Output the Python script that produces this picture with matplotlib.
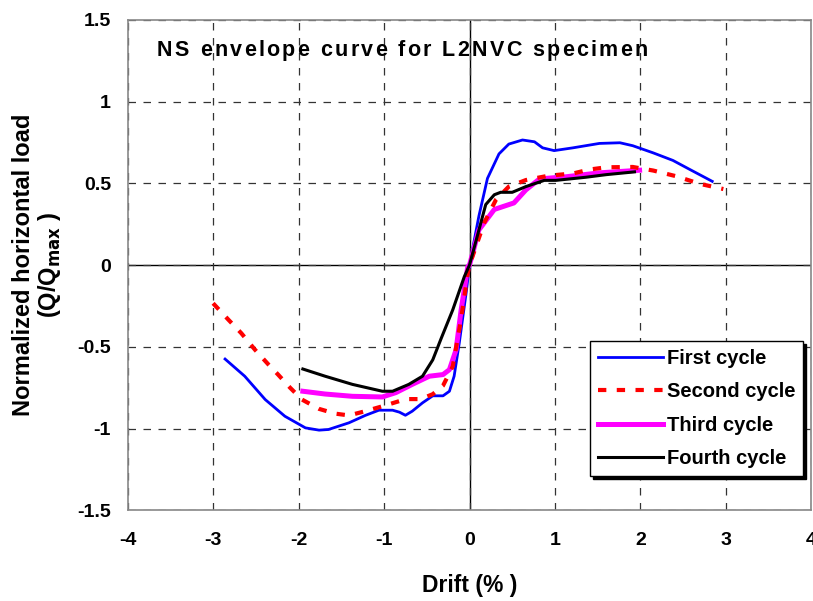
import numpy as np
import matplotlib
matplotlib.use("Agg")
import matplotlib.pyplot as plt
from matplotlib.transforms import offset_copy

plt.rcParams['font.family'] = ['Liberation Sans', 'DejaVu Sans']
plt.rcParams['font.weight'] = 'bold'

# First cycle
x1 = [-2.86, -2.63, -2.39, -2.16, -1.92, -1.76, -1.65, -1.41, -1.22, -1.06, -0.90, -0.82,
      -0.75, -0.67, -0.55, -0.43, -0.31, -0.235, -0.18, -0.12, -0.04, 0.0,
      0.11, 0.21, 0.345, 0.46, 0.62, 0.76, 0.855, 0.99, 1.21, 1.52, 1.76, 1.91,
      2.15, 2.38, 2.58, 2.84]
y1 = [-0.575, -0.68, -0.823, -0.925, -0.996, -1.01, -1.006, -0.965, -0.92, -0.888, -0.888, -0.90,
      -0.919, -0.894, -0.843, -0.80, -0.80, -0.772, -0.68, -0.478, -0.173, 0.0,
      0.30, 0.53, 0.68, 0.74, 0.765, 0.754, 0.717, 0.70, 0.717, 0.744, 0.748, 0.73,
      0.686, 0.64, 0.584, 0.512]

# Second cycle
x2 = [-3.0, -2.82, -2.67, -2.51, -2.35, -2.24, -2.10, -1.96, -1.76, -1.57, -1.41, -1.22,
      -0.98, -0.745, -0.57, -0.43, -0.31, -0.196, -0.10, -0.02, 0.0,
      0.17, 0.31, 0.46, 0.66, 0.93, 1.21, 1.40, 1.60, 1.91, 2.15, 2.42, 2.70, 2.97]
y2 = [-0.234, -0.335, -0.417, -0.518, -0.61, -0.67, -0.75, -0.823, -0.88, -0.909, -0.92, -0.894,
      -0.858, -0.82, -0.82, -0.79, -0.738, -0.62, -0.335, -0.05, 0.0,
      0.256, 0.40, 0.48, 0.52, 0.547, 0.56, 0.584, 0.598, 0.60, 0.578, 0.543, 0.496, 0.465]

# Third cycle
x3 = [-1.95, -1.69, -1.37, -1.02, -0.86, -0.67, -0.47, -0.31, -0.235, -0.157, -0.098, -0.02,
      0.0, 0.11, 0.29, 0.52, 0.66, 0.82, 1.13, 1.52, 1.99]
y3 = [-0.772, -0.789, -0.803, -0.807, -0.78, -0.73, -0.68, -0.67, -0.64, -0.518, -0.274, -0.01,
      0.0, 0.215, 0.34, 0.38, 0.46, 0.527, 0.54, 0.564, 0.58]

# Fourth cycle
x4 = [-1.95, -1.69, -1.37, -1.02, -0.90, -0.71, -0.55, -0.43, -0.33, -0.196, -0.06, 0.0,
      0.19, 0.29, 0.365, 0.50, 0.66, 0.875, 1.01, 1.36, 1.60, 1.93]
y4 = [-0.636, -0.68, -0.73, -0.772, -0.772, -0.73, -0.68, -0.58, -0.447, -0.274, -0.07, 0.0,
      0.37, 0.43, 0.445, 0.445, 0.48, 0.518, 0.518, 0.537, 0.553, 0.57]

xticks = [-4, -3, -2, -1, 0, 1, 2, 3, 4]
yticks = [-1.5, -1, -0.5, 0, 0.5, 1, 1.5]
ylabs = ['-1.5', '-1', '-0.5', '0', '0.5', '1', '1.5']

title = 'NS envelope curve for L2NVC specimen'

fig = plt.figure(figsize=(8.13, 6.01), dpi=100)
ax = fig.add_axes([0.157, 0.151, 0.841, 0.816])

ax.set_xlim(-4, 4)
ax.set_ylim(-1.5, 1.5)
ax.set_xticks(xticks)
ax.set_yticks(yticks)
ax.set_xticklabels([str(t) for t in xticks])
ax.set_yticklabels(ylabs)
ax.tick_params(length=0, labelsize=14)
ax.tick_params(axis='y', pad=12)
ax.tick_params(axis='x', pad=16)
for lab in ax.get_xticklabels() + ax.get_yticklabels():
    lab.set_fontweight('bold')

# Gitter gestrichelt, Achsen bei 0 durchgezogen
ax.grid(True, linestyle=(0, (6, 6)), color='#333333', linewidth=0.9)
ax.axhline(0, color='black', linewidth=1.0, zorder=1.5)
ax.axvline(0, color='black', linewidth=1.0, zorder=1.5)
for s in ax.spines.values():
    s.set_color('#888888')
    s.set_linewidth(1.2)

ax.plot(x1, y1, color='#0000ff', linewidth=2.0, label='First cycle', zorder=3)
ax.plot(x2, y2, color='#ff0000', linewidth=3.0, linestyle=(0, (2, 2.5)), label='Second cycle', zorder=4)
ax.plot(x3, y3, color='#ff00ff', linewidth=3.6, label='Third cycle', zorder=3)
ax.plot(x4, y4, color='black', linewidth=2.2, label='Fourth cycle', zorder=5)

# Titel zeichenweise gesperrt setzen (Original ist breit gesperrt)
renderer = fig.canvas.get_renderer()
widths = []
for ch in title:
    t = fig.text(0, 0, ch, fontsize=15.5, fontweight='bold')
    widths.append(t.get_window_extent(renderer).width)
    t.remove()
x_start, x_end = 157.0, 648.0
extra = (x_end - x_start - sum(widths)) / (len(title) - 1)
xpos = x_start
for ch, w in zip(title, widths):
    fig.text(xpos / 813.0, (601 - 56) / 601.0, ch, fontsize=15.5, fontweight='bold', va='baseline')
    xpos += w + extra

ax.set_xlabel('Drift (% )', fontsize=16.5, fontweight='bold', labelpad=18)
ax.set_ylabel('Normalized horizontal load\n(Q/Q$_{\\mathbf{max}}$ )', fontsize=17,
              fontweight='bold', labelpad=10, linespacing=1.05)

leg = ax.legend(loc='lower right', bbox_to_anchor=(0.988, 0.069), fontsize=14.5,
                frameon=True, fancybox=False, shadow={'color': 'black', 'alpha': 1.0},
                handlelength=3.2, handletextpad=0.2, borderpad=0.4, labelspacing=0.72,
                borderaxespad=0)
leg.get_frame().set_edgecolor('black')
leg.get_frame().set_linewidth(1.0)
for t in leg.get_texts():
    t.set_fontweight('bold')

fig.savefig('out.png', dpi=100)
